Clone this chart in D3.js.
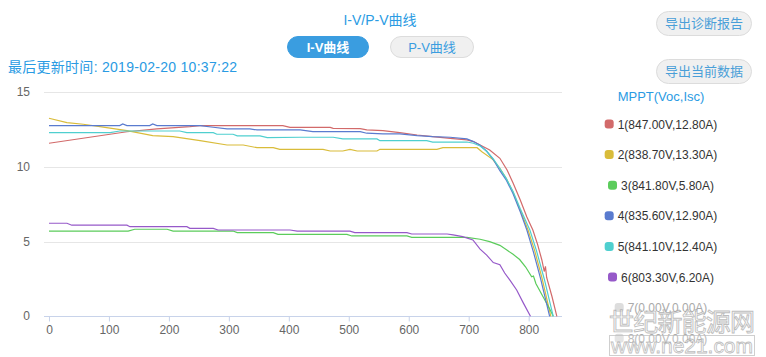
<!DOCTYPE html>
<html><head><meta charset="utf-8">
<script src="https://cdn.jsdelivr.net/npm/d3@7"></script>
<style>
body{margin:0;background:#fff;}
svg{display:block;font-family:Arial,"Liberation Sans","Noto Sans CJK SC",sans-serif;}
</style></head>
<body><svg id="c" width="766" height="357"></svg>
<script>
// ---- data ----
const seriesNames = ["1","2","3","4","5","6","7","8"];
const seriesVoc = [847.00, 838.70, 841.80, 835.60, 841.10, 803.30, 0.00, 0.00];
const seriesIsc = [12.80, 13.30, 5.80, 12.90, 12.40, 6.20, 0.00, 0.00];
const seriesColors = ["#d26a6a","#d9bc3a","#5bcc5b","#5a7bcf","#4fcfcf","#9659c9","#dddddd","#dddddd"];

const v1 = [0,130,180,235,252,390,402,469,474,519,530,557,585,614,640,669,697,708,719,735,752,764,774,786,797,807,815,822,826,828,830,839,847];
const i1 = [11.59,12.36,12.55,12.7,12.77,12.77,12.65,12.65,12.59,12.57,12.48,12.43,12.3,12.14,12.03,11.92,11.81,11.7,11.47,11.14,10.58,9.8,8.93,7.79,6.65,5.78,4.8,3.77,3.0,3.35,2.6,1.31,0];

const v2 = [0,30,57,85,130,173,207,252,297,324,347,374,385,457,469,490,502,514,547,552,647,657,714,722,740,752,763,774,786,799,810,822,837];
const i2 = [13.26,12.97,12.86,12.7,12.43,12.1,12.03,11.76,11.47,11.47,11.29,11.29,11.18,11.18,11.07,11.07,11.18,11.07,11.07,11.18,11.18,11.29,11.29,11.02,10.51,9.9,9.2,8.3,7.1,5.78,4.4,2.6,0];

const v3 = [0,132,143,197,207,307,314,374,382,497,505,597,605,697,719,735,752,763,774,785,795,805,808,812,824,836,841];
const i3 = [5.71,5.71,5.83,5.83,5.71,5.71,5.6,5.6,5.49,5.49,5.38,5.38,5.29,5.29,5.16,5.0,4.75,4.45,4.15,3.8,3.3,2.65,2.7,2.2,1.31,0.42,0];

const v4 = [0,118,123,130,168,173,180,197,252,274,297,335,347,419,440,519,530,557,585,614,640,669,697,708,719,730,741,752,763,774,786,797,808,820,835];
const i4 = [12.77,12.77,12.88,12.77,12.77,12.88,12.77,12.77,12.77,12.66,12.55,12.55,12.48,12.48,12.37,12.37,12.26,12.21,12.21,12.1,12.03,11.99,11.88,11.7,11.45,11.05,10.5,9.75,9.1,8.2,7.0,5.78,4.3,2.5,0];

const v5 = [0,102,118,218,230,274,280,307,314,352,364,419,474,490,547,552,630,640,697,708,719,730,741,752,763,774,786,802,813,826,841];
const i5 = [12.3,12.3,12.41,12.41,12.3,12.3,12.19,12.19,12.08,12.08,11.96,11.99,11.99,11.88,11.88,11.76,11.76,11.67,11.67,11.59,11.4,11.05,10.55,9.9,9.2,8.35,7.2,5.78,4.4,2.5,0];

const v6 = [0,30,38,130,135,230,235,274,282,402,414,502,510,597,605,664,674,690,707,719,730,741,752,760,769,780,791,803];
const i6 = [6.23,6.23,6.1,6.1,6.0,6.0,5.89,5.89,5.78,5.78,5.7,5.7,5.6,5.6,5.51,5.51,5.45,5.33,5.11,4.5,4.1,3.6,3.45,2.9,2.4,1.76,0.9,0];

const v7 = [];
const i7 = [];
const v8 = [];
const i8 = [];

const xTicks = [0,100,200,300,400,500,600,700,800];
const yTicks = [0,5,10,15];

const titleText = "I-V/P-V曲线";
const updateText = "最后更新时间: 2019-02-20 10:37:22";
const legendTitle = "MPPT(Voc,Isc)";

// ---- build ----
const allV = [v1,v2,v3,v4,v5,v6,v7,v8];
const allI = [i1,i2,i3,i4,i5,i6,i7,i8];
const series = seriesNames.map((n,k)=>({
  name:n, color:seriesColors[k],
  label:`${n}(${seriesVoc[k].toFixed(2)}V,${seriesIsc[k].toFixed(2)}A)`,
  pts:allV[k].map((v,j)=>({v, i:allI[k][j]}))
}));

const svg = d3.select("#c");
const blue = "#2a9be3";

const x = d3.scaleLinear().domain([-8.3, 855.6]).range([44, 562]);
const y = d3.scaleLinear().domain([0, 15]).range([316.3, 92.3]);

// header texts
svg.append("text").attr("x",380).attr("y",25).attr("text-anchor","middle")
  .attr("font-size",14).attr("fill",blue).text(titleText);
svg.append("text").attr("x",8).attr("y",72)
  .attr("font-size",14).attr("fill",blue)
  .attr("textLength",229).attr("lengthAdjust","spacing").text(updateText);

function button(x0,y0,w,h,label,active,color){
  const g = svg.append("g");
  g.append("rect").attr("x",x0).attr("y",y0).attr("width",w).attr("height",h)
    .attr("rx",h/2).attr("fill",active?"#3a9de0":"#f0f0f0")
    .attr("stroke",active?"#3a9de0":"#dcdcdc");
  g.append("text").attr("x",x0+w/2).attr("y",y0+h/2+4.5).attr("text-anchor","middle")
    .attr("font-size",13).attr("font-weight",active?"bold":"normal")
    .attr("fill",active?"#fff":color).text(label);
}
button(287.5,36.5,81,21,"I-V曲线",true);
button(390.5,36.5,83,21,"P-V曲线",false,"#3a9de0");
button(656.5,11.5,95,24,"导出诊断报告",false,"#4a9fd8");
button(656.5,59.5,95,24,"导出当前数据",false,"#4a9fd8");

// grid
const g = svg.append("g");
g.selectAll("line.grid").data(yTicks.filter(t=>t>0)).join("line")
  .attr("x1",44).attr("x2",562)
  .attr("y1",d=>Math.round(y(d))+0.5).attr("y2",d=>Math.round(y(d))+0.5)
  .attr("stroke","#e6e6e6");

// y labels
g.selectAll("text.yl").data(yTicks).join("text")
  .attr("x",30).attr("y",d=>y(d)+4).attr("text-anchor","end")
  .attr("font-size",12).attr("fill","#666").text(d=>d);

// x axis
const xAxis = d3.axisBottom(x).tickValues(xTicks).tickSize(5).tickPadding(4).tickSizeOuter(0);
const ax = svg.append("g").attr("transform",`translate(0,${Math.round(y(0))+0.5})`).call(xAxis);
ax.select(".domain").attr("stroke","#c8d3ea").attr("d","M44,0H562");
ax.selectAll(".tick line").attr("stroke","#c8d3ea");
ax.selectAll(".tick text").attr("fill","#666").attr("font-size",12)
  .attr("font-family",'Arial,"Liberation Sans",sans-serif');

// lines
const line = d3.line().x(d=>x(d.v)).y(d=>y(d.i));
svg.append("g").selectAll("path").data(series.filter(s=>s.pts.length))
  .join("path").attr("d",d=>line(d.pts)).attr("fill","none")
  .attr("stroke",d=>d.color).attr("stroke-width",1.2);

// legend
const lg = svg.append("g");
lg.append("text").attr("x",661).attr("y",101).attr("text-anchor","middle")
  .attr("font-size",13).attr("fill",blue).text(legendTitle);
series.forEach((s,k)=>{
  const cy = 124 + k*30.6;
  const t = lg.append("text").attr("y",cy+4.5).attr("font-size",12)
    .attr("fill",k>=6?"#aaa":"#333").text(s.label);
  const tw = t.node().getComputedTextLength();
  const total = 9+4+tw;
  const x0 = 661 - total/2;
  t.attr("x",x0+13);
  lg.append("rect").attr("x",x0).attr("y",cy-4.5).attr("width",9).attr("height",9)
    .attr("rx",3).attr("fill",s.color);
});

// watermark
const wm = svg.append("g").attr("opacity",0.75);
wm.append("text").attr("x",682).attr("y",331).attr("text-anchor","middle")
  .attr("font-size",25).attr("font-family",'"Noto Sans CJK SC",sans-serif')
  .attr("fill","rgba(255,255,255,0.6)").attr("stroke","#a8a8a8").attr("stroke-width",0.9)
  .attr("textLength",146).text("世纪新能源网");
wm.append("rect").attr("x",609.5).attr("y",335.5).attr("width",145).attr("height",20)
  .attr("fill","rgba(255,255,255,0.3)").attr("stroke","#c0c0c0");
wm.append("text").attr("x",682).attr("y",353).attr("text-anchor","middle")
  .attr("font-size",21).attr("fill","rgba(255,255,255,0.6)").attr("stroke","#a8a8a8")
  .attr("stroke-width",0.8).attr("textLength",142).text("www.ne21.com");
</script></body></html>
